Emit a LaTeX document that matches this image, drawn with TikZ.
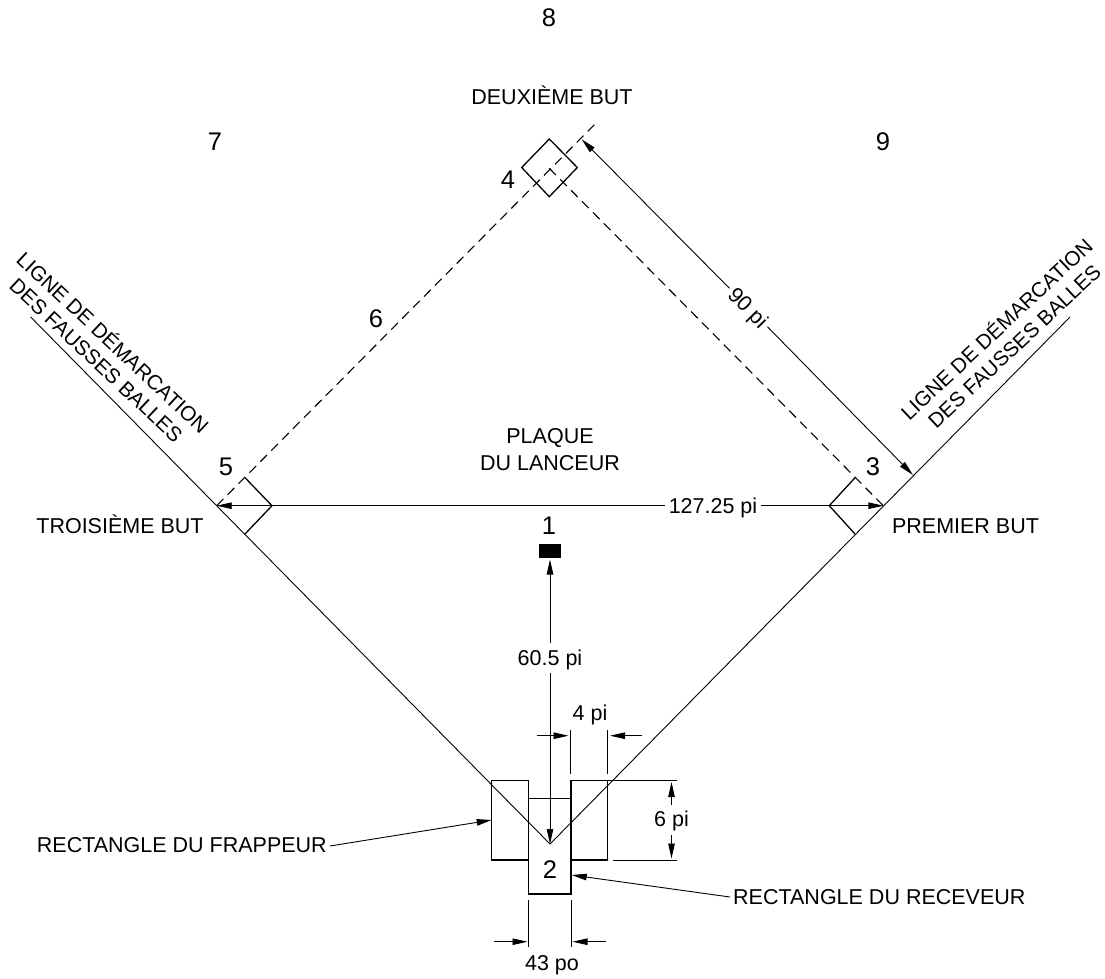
\documentclass[tikz,border=0pt]{standalone}
\usepackage{fontspec}
\setmainfont{Liberation Sans}
\usetikzlibrary{arrows.meta}
\tikzset{
  thinline/.style={line width=0.9pt,black},
  boxline/.style={line width=1.3pt,black},
  dashline/.style={line width=1.1pt,black,dash pattern=on 9.5pt off 6pt},
  dim/.style={line width=0.9pt,black,-{Stealth[length=15pt,width=6.5pt,inset=0pt]}},
  lab/.style={font=\fontsize{21.5}{25}\selectfont,inner sep=0pt,text=black,text height=15.5pt,text depth=0pt},
  rotlab/.style={lab,font=\fontsize{20.7}{25}\selectfont},
  num/.style={font=\fontsize{25.5}{30}\selectfont,inner sep=0pt,text=black},
  gaplab/.style={lab,fill=white,inner xsep=3.5pt,inner ysep=7pt},
}
\begin{document}
\begin{tikzpicture}[x=1pt,y=-1pt]
\useasboundingbox (0,0) rectangle (1105,978);
% key points
\coordinate (home) at (550,844);
\coordinate (first) at (883.3,505.7);
\coordinate (third) at (216.7,505.7);
\coordinate (foulR) at (1070,317);
\coordinate (foulL) at (30.7,317);
\coordinate (secondC) at (549.3,168.3);
\coordinate (dashEnd) at (595.7,123.3);
% foul lines
\draw[thinline] (home) -- (foulR);
\draw[thinline] (home) -- (foulL);
% base paths
\draw[dashline] (third) -- (dashEnd);
\draw[dashline] (secondC) -- (first);
% second base
\coordinate (s1) at (549.3,139);
\coordinate (s2) at (577.3,167.5);
\coordinate (s3) at (549.3,196.7);
\coordinate (s4) at (521.7,167.5);
\draw[boxline] (s1) -- (s2) -- (s3) -- (s4) -- cycle;
% first base
\coordinate (f1) at (855,477.7);
\coordinate (f2) at (829.3,505.7);
\coordinate (f3) at (855,534);
\draw[boxline] (f1) -- (f2) -- (f3);
% third base
\coordinate (t1) at (245,477.7);
\coordinate (t2) at (272,505.7);
\coordinate (t3) at (245,534);
\draw[boxline] (t1) -- (t2) -- (t3);
% pitcher's plate
\node[fill=black,minimum width=22.6pt,minimum height=14.3pt,inner sep=0pt] (plate) at (550,551.2) {};
% batter's and catcher's boxes
\coordinate (cA) at (528.7,798.3);
\coordinate (cC) at (571,894);
\draw[boxline] (cA) rectangle (cC);
\coordinate (bl1) at (491.7,780.3);
\coordinate (bl3) at (528.7,860);
\draw[boxline] (bl1) rectangle (bl3);
\coordinate (br1) at (571,780.3);
\coordinate (br3) at (607.7,860);
\draw[boxline] (br1) rectangle (br3);
% dimension: 60.5 pi
\node[gaplab] (d605) at (550,658) {60.5 pi};
\coordinate (plateTip) at (550,559.5);
\draw[dim] (d605) -- (plateTip);
\draw[dim] (d605) -- (home);
% dimension: 127.25 pi
\node[gaplab] (d127) at (713,505.7) {127.25 pi};
\draw[dim] (d127) -- (third);
\draw[dim] (d127) -- (first);
% dimension: 90 pi
\coordinate (n1) at (581.7,139.3);
\coordinate (n2) at (913,475);
\node[gaplab,rotate=-45.4] (d90) at (748.5,307.5) {90 pi};
\draw[dim] (d90) -- (n1);
\draw[dim] (d90) -- (n2);
% dimension: 4 pi
\coordinate (q1) at (570.7,730);
\coordinate (q2) at (570.7,774);
\coordinate (q3) at (607.7,730);
\coordinate (q4) at (607.7,774);
\draw[thinline] (q1) -- (q2);
\draw[thinline] (q3) -- (q4);
\coordinate (qa) at (536.7,735.7);
\coordinate (qb) at (568.5,735.7);
\coordinate (qc) at (641.7,735.7);
\coordinate (qd) at (610,735.7);
\draw[dim] (qa) -- (qb);
\draw[dim] (qc) -- (qd);
\node[lab] (d4) at (590,713) {4 pi};
% dimension: 6 pi
\coordinate (e1) at (607.7,780.3);
\coordinate (e2) at (676.7,780.3);
\coordinate (e3) at (613.3,860);
\coordinate (e4) at (676.7,860);
\draw[boxline] (e1) -- (e2);
\draw[thinline] (e3) -- (e4);
\node[lab] (d6) at (671.5,819) {6 pi};
\coordinate (e5) at (671.5,782);
\coordinate (e6) at (671.5,858.5);
\coordinate (e7) at (671.5,805);
\coordinate (e8) at (671.5,835);
\draw[dim] (e7) -- (e5);
\draw[dim] (e8) -- (e6);
% dimension: 43 po
\coordinate (g1) at (528.7,900);
\coordinate (g2) at (528.7,947);
\coordinate (g3) at (571,900);
\coordinate (g4) at (571,947);
\draw[thinline] (g1) -- (g2);
\draw[thinline] (g3) -- (g4);
\coordinate (ga) at (494.3,941.7);
\coordinate (gb) at (527.5,941.7);
\coordinate (gc) at (605.7,941.7);
\coordinate (gd) at (572.5,941.7);
\draw[dim] (ga) -- (gb);
\draw[dim] (gc) -- (gd);
\node[lab] (d43) at (552,962.7) {43 po};
% leaders
\node[lab,anchor=east] (frap) at (327,845) {RECTANGLE DU FRAPPEUR};
\coordinate (frapTip) at (491.7,820);
\draw[dim] (frap.east) ++(3,1) coordinate (frapS) -- (frapTip);
\node[lab,anchor=west] (recv) at (733,897) {RECTANGLE DU RECEVEUR};
\coordinate (recvTip) at (571.7,875);
\draw[dim] (recv.west) ++(-3,0) coordinate (recvS) -- (recvTip);
% labels
\node[num] (n8) at (549,18) {8};
\node[num] (n7) at (215,142) {7};
\node[num] (n9) at (883,142) {9};
\node[num] (n4) at (508,180) {4};
\node[num] (n6) at (376,319) {6};
\node[num] (n5) at (226,467) {5};
\node[num] (n3) at (873,467) {3};
\node[num] (n1l) at (549,525.5) {1};
\node[num] (n2l) at (550,870) {2};
\node[lab] (l2b) at (552,97) {DEUXIÈME BUT};
\node[lab] (lp1) at (550,436) {PLAQUE};
\node[lab] (lp2) at (550,463) {DU LANCEUR};
\node[lab] (l3b) at (120,526) {TROISIÈME BUT};
\node[lab] (l1b) at (965.5,526) {PREMIER BUT};
\node[rotlab,rotate=-43.2] (fl1) at (113,342.5) {LIGNE DE DÉMARCATION};
\node[rotlab,rotate=-43.2] (fl2) at (96.5,360) {DES FAUSSES BALLES};
\node[rotlab,rotate=43.2] (fr1) at (996.5,329) {LIGNE DE DÉMARCATION};
\node[rotlab,rotate=43.2] (fr2) at (1014,346) {DES FAUSSES BALLES};
\end{tikzpicture}
\end{document}
